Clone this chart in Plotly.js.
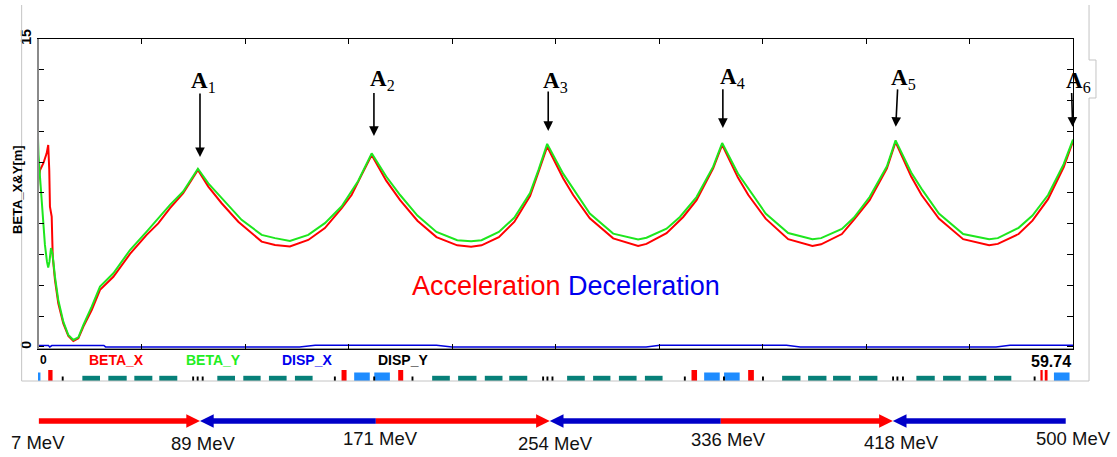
<!DOCTYPE html>
<html><head><meta charset="utf-8">
<script src="https://cdn.plot.ly/plotly-3.0.1.min.js"></script>
<style>html,body{margin:0;padding:0;background:#fff}#chart{width:1117px;height:457px}</style>
</head><body><div id="chart"></div>
<script>
// ---------------- DATA ----------------
// BETA_X (red)
const sBetaX = [0,0.02,0.12,0.31,0.5,0.59,0.65,0.69,0.79,0.85,0.98,1.17,1.46,1.75,2.04,2.33,2.62,3.1,3.58,4.35,5.31,6.27,6.94,7.62,8.38,9.16,9.23,
  9.83,10.6,11.56,12.91,13.68,14.54,15.6,16.56,17.53,18.1,18.68,19.26,
  20.1,20.9,21.9,23.0,24.2,25.0,25.6,26.6,27.5,28.4,28.9,29.39,
  30.31,30.89,31.85,33.2,34.64,35.12,36.28,37.24,38.01,38.97,39.49,
  40.4,41.0,42.0,43.3,44.7,45.2,46.4,47.1,48.0,49.0,49.5,
  50.4,51.0,52.0,53.4,54.9,55.4,56.6,57.4,58.3,59.2,59.74];
const betaX = [7.8,8.13,8.62,8.95,9.43,9.84,8.62,6.83,6.35,4.4,3.26,2.13,1.15,0.54,0.29,0.42,0.99,1.8,2.78,3.42,4.53,5.46,6.02,6.76,7.49,8.55,8.62,
  7.81,7.0,6.1,5.13,4.97,4.89,5.21,5.79,6.76,7.4,8.38,9.35,
  8.1,7.15,6.15,5.35,4.95,4.88,4.95,5.35,6.1,7.35,8.55,9.76,
  8.22,7.4,6.27,5.29,4.92,5.02,5.54,6.33,7.15,8.7,9.84,
  8.25,7.4,6.25,5.25,4.92,5.0,5.5,6.2,7.15,8.7,9.98,
  8.3,7.4,6.25,5.25,4.95,5.02,5.5,6.15,7.2,8.75,10.02];
// BETA_Y (green)
const sBetaY = [0,0.03,0.12,0.2,0.29,0.4,0.52,0.59,0.66,0.75,0.84,0.98,1.17,1.46,1.75,2.04,2.33,2.62,3.1,3.58,4.35,5.31,6.27,6.94,7.62,8.38,9.16,9.23,
  9.83,10.6,11.75,12.91,13.68,14.54,15.6,16.56,17.53,18.48,19.26,
  20.1,20.9,21.9,23.0,24.2,25.0,25.6,26.6,27.5,28.4,28.9,29.39,
  30.31,30.89,31.85,33.2,34.64,35.12,36.28,37.05,38.01,38.97,39.49,
  40.4,41.0,42.0,43.3,44.7,45.2,46.4,47.1,48.0,49.0,49.5,
  50.4,51.0,52.0,53.4,54.9,55.4,56.6,57.4,58.3,59.2,59.74];
const betaY = [10.17,9.35,8.23,7.16,5.94,4.97,4.14,3.87,4.14,4.82,4.53,3.41,2.29,1.23,0.58,0.34,0.47,1.07,1.96,2.94,3.59,4.72,5.62,6.27,6.92,7.57,8.6,8.68,
  7.97,7.24,6.19,5.46,5.3,5.16,5.46,6.03,6.85,8.08,9.43,
  8.3,7.4,6.4,5.6,5.2,5.15,5.2,5.6,6.3,7.5,8.65,9.89,
  8.44,7.71,6.5,5.52,5.23,5.32,5.76,6.33,7.3,8.78,9.93,
  8.45,7.7,6.5,5.55,5.25,5.3,5.75,6.3,7.3,8.8,10.06,
  8.5,7.7,6.5,5.5,5.25,5.3,5.8,6.4,7.4,8.9,10.1];
// DISP_X (blue)
const sDispX = [0,0.6,0.68,0.8,3.8,3.9,15.1,16.0,23.0,23.9,35.1,35.9,43.2,44.0,55.3,56.1,59.74];
const dispX  = [0.07,0.07,0.0,0.07,0.07,0,0,0.08,0.08,0,0,0.08,0.08,0,0,0.08,0.08];

// Lattice elements (s start, length)
const dipoleStart = [2.56,4.06,5.56,7.0,10.35,11.85,13.33,14.83,22.75,24.25,25.79,27.2,30.54,32.04,33.53,35.03,42.95,44.45,45.89,47.39,50.7,52.24,53.72,55.18];
const dipoleLen   = [1.02,1.06,1.04,1.04,1.02,1.0,1.02,1.02,1.02,1.06,1.02,1.04,1.02,1.0,1.02,1.02,1.06,1.06,1.02,1.06,1.06,1.02,1.02,1.0];
const quadFStart = [0.59,17.52,20.79,37.72,40.99,57.86,58.11];
const quadFLen   = [0.25,0.29,0.29,0.32,0.33,0.13,0.16];
const quadDStart = [0.0,18.25,19.41,38.45,39.6,58.64];
const quadDLen   = [0.14,0.9,0.9,0.9,0.9,0.9];
const markerS = [1.37,8.9,9.16,9.45,17.08,19.35,21.56,29.1,29.35,29.64,37.28,39.54,41.79,49.3,49.55,49.87,57.47];

// Peaks A1..A6
const peakNames = ['1','2','3','4','5','6'];
const peakTipS  = [9.35,19.39,29.45,39.53,49.51,59.72];
const peakTailS = [9.35,19.39,29.45,39.53,49.62,59.66];

// Energy phases along s
const phaseBound = [0.05,9.35,19.5,29.54,39.41,49.34,59.32];
const phaseType  = ['acc','dec','acc','dec','acc','dec'];
const energyLabels = ['7 MeV','89 MeV','171 MeV','254 MeV','336 MeV','418 MeV','500 MeV'];
const energyS      = [0,9.52,19.75,29.85,39.85,49.85,59.74];

const yTickVals = [0,1.5,3,4.5,6,7.5,9,10.5,12,13.5,15];
const yTickText = ['<b>0</b>','','','','','','','','','','<b>15</b>'];
const sMax = 59.74;

// ---------------- STYLE / LAYOUT ----------------
const RED='#ff0000', GREEN='#1ee61e', BLUE='#0000dd', TEAL='#078079', QBLUE='#1e8cff';
const FONT='Liberation Sans, Arial, sans-serif';

function bars(starts, lens, h, color){
  return {type:'bar', xaxis:'x', yaxis:'y2', x:starts.map((s,i)=>s+lens[i]/2), width:lens,
    y:starts.map(()=>h), base:0, marker:{color:color, line:{width:0}}, hoverinfo:'skip'};
}

const traces = [
  {x:sBetaX, y:betaX, type:'scatter', mode:'lines', line:{color:RED, width:2}, name:'BETA_X'},
  {x:sBetaY, y:betaY, type:'scatter', mode:'lines', line:{color:GREEN, width:2}, name:'BETA_Y'},
  {x:sDispX, y:dispX, type:'scatter', mode:'lines', line:{color:BLUE, width:1.6}, name:'DISP_X'},
  bars(dipoleStart, dipoleLen, 5.2, TEAL),
  bars(quadDStart, quadDLen, 8.5, QBLUE),
  bars(quadFStart, quadFLen, 11, RED),
  bars(markerS, markerS.map(()=>0.11), 4.5, '#000')
];

const shapes = [];
// outer light grey frame
shapes.push({type:'path', xref:'paper', yref:'paper', layer:'above',
  path:'M -0.0158,1.0994 L -0.0158,0 L 1.0155,0 L 1.0155,0.8275 L 1.0222,0.8275 L 1.0222,0.9386 L 1.0155,0.9386 L 1.0155,1.0994',
  line:{color:'#c4c4c4', width:1}, fillcolor:'rgba(0,0,0,0)'});
// grey left / bottom axis lines
shapes.push({type:'line', xref:'paper', yref:'y domain', x0:0, x1:0, y0:0, y1:1, line:{color:'#8a8a8a', width:2}, layer:'above'});
shapes.push({type:'line', xref:'paper', yref:'y domain', x0:0, x1:1, y0:0, y1:0, line:{color:'#9a9a9a', width:2}, layer:'below'});

// energy arrows
const arrY = -0.117, headH = 0.0196, headL = 0.79;
phaseType.forEach((t,i)=>{
  const a = phaseBound[i], b = phaseBound[i+1];
  const col = t==='acc' ? RED : '#0000c8';
  if(t==='acc'){
    shapes.push({type:'line', xref:'x', yref:'paper', x0:a, x1:b-headL*0.9, y0:arrY, y1:arrY, line:{color:col, width:5.5}});
    shapes.push({type:'path', xref:'x', yref:'paper', path:`M ${b},${arrY} L ${b-headL},${arrY+headH} L ${b-headL},${arrY-headH} Z`, fillcolor:col, line:{width:0}});
  } else {
    shapes.push({type:'line', xref:'x', yref:'paper', x0:b, x1:a+headL*0.9, y0:arrY, y1:arrY, line:{color:col, width:5.5}});
    shapes.push({type:'path', xref:'x', yref:'paper', path:`M ${a},${arrY} L ${a+headL},${arrY+headH} L ${a+headL},${arrY-headH} Z`, fillcolor:col, line:{width:0}});
  }
});

const annotations = [];
// y axis title
annotations.push({xref:'paper', yref:'paper', x:-0.0203, y:0.5614, text:'<b>BETA_X&amp;Y[m]</b>', textangle:-90,
  showarrow:false, font:{family:FONT, size:13, color:'#000'}, xanchor:'center', yanchor:'middle'});
// peak arrows & labels
const tipB  = [9.25,10.28,10.52,10.67,10.72,10.73];
const tailB = [12.42,12.44,12.52,12.62,12.62,12.44];
const labS  = [8.72,19.05,29.02,39.25,49.1,59.2];
const labB  = [12.93,12.98,12.92,13.08,13.03,12.92];
peakNames.forEach((n,i)=>{
  annotations.push({xref:'x', yref:'y', x:peakTipS[i], y:tipB[i], axref:'x', ayref:'y', ax:peakTailS[i], ay:tailB[i],
    text:'', showarrow:true, arrowhead:2, arrowsize:1.2, arrowwidth:1.6, arrowcolor:'#000', standoff:0});
  annotations.push({xref:'x', yref:'y', x:labS[i], y:labB[i], xanchor:'left', yanchor:'middle', showarrow:false,
    text:'<b>A</b><sub>'+n+'</sub>', font:{family:'Liberation Serif, Times New Roman, serif', size:23, color:'#000'}});
});
// Acceleration / Deceleration
annotations.push({xref:'x', yref:'y', x:30.5, y:2.97, showarrow:false, xanchor:'center', yanchor:'middle',
  text:"<span style='color:#ff0000'>Acceleration</span> <span style='color:#0000ee'>Deceleration</span>",
  font:{family:FONT, size:27}});
// lattice legend row
const legY = 0.0614;
annotations.push({xref:'x', yref:'paper', x:0, y:legY, xanchor:'left', yanchor:'middle', showarrow:false, text:'<b>0</b>', font:{family:FONT, size:12, color:'#000'}});
annotations.push({xref:'x', yref:'paper', x:sMax, y:0.0556, xanchor:'right', yanchor:'middle', showarrow:false, text:'<b>'+sMax.toFixed(2)+'</b>', font:{family:FONT, size:16, color:'#000'}});
[['BETA_X',0.0763,RED],['BETA_Y',0.1696,'#22ee22'],['DISP_X',0.2599,'#0000ee'],['DISP_Y',0.3527,'#000']].forEach(l=>{
  annotations.push({xref:'paper', yref:'paper', x:l[1], y:legY, xanchor:'center', yanchor:'middle', showarrow:false,
    text:'<b>'+l[0]+'</b>', font:{family:FONT, size:14, color:l[2]}});
});
// energy labels
const enY = [-0.1798,-0.1842,-0.1667,-0.1842,-0.1705,-0.1798,-0.1667];
energyLabels.forEach((t,i)=>{
  annotations.push({xref:'x', yref:'paper', x:energyS[i], y:enY[i], xanchor:'center', yanchor:'middle', showarrow:false,
    text:t, font:{family:FONT, size:18.5, color:'#111'}});
});

const layout = {
  width:1117, height:457,
  margin:{l:38, r:44, t:39, b:76, pad:0},
  paper_bgcolor:'#fff', plot_bgcolor:'#fff',
  showlegend:false, hovermode:false, barmode:'overlay',
  font:{family:FONT},
  xaxis:{range:[0,sMax], domain:[0,1], anchor:'y', showticklabels:false, ticks:'inside', ticklen:5, tickwidth:1, tickcolor:'#000',
    tickmode:'linear', tick0:0, dtick:sMax/10, showline:true, linecolor:'#000', linewidth:1, mirror:'ticks',
    showgrid:false, zeroline:false, fixedrange:true},
  yaxis:{range:[-0.1,15], domain:[0.0936,1], anchor:'x', ticks:'inside', ticklen:6, tickwidth:1, tickcolor:'#000',
    tickmode:'array', tickvals:yTickVals, ticktext:yTickText, tickangle:-90,
    tickfont:{family:FONT, size:14, color:'#000'}, showline:true, linecolor:'#000', linewidth:1, mirror:'ticks',
    showgrid:false, zeroline:false, fixedrange:true},
  yaxis2:{range:[0,15], domain:[0,0.0439], anchor:'x', visible:false, fixedrange:true},
  shapes:shapes, annotations:annotations
};

Plotly.newPlot('chart', traces, layout, {staticPlot:true, displayModeBar:false});
</script>
</body></html>
